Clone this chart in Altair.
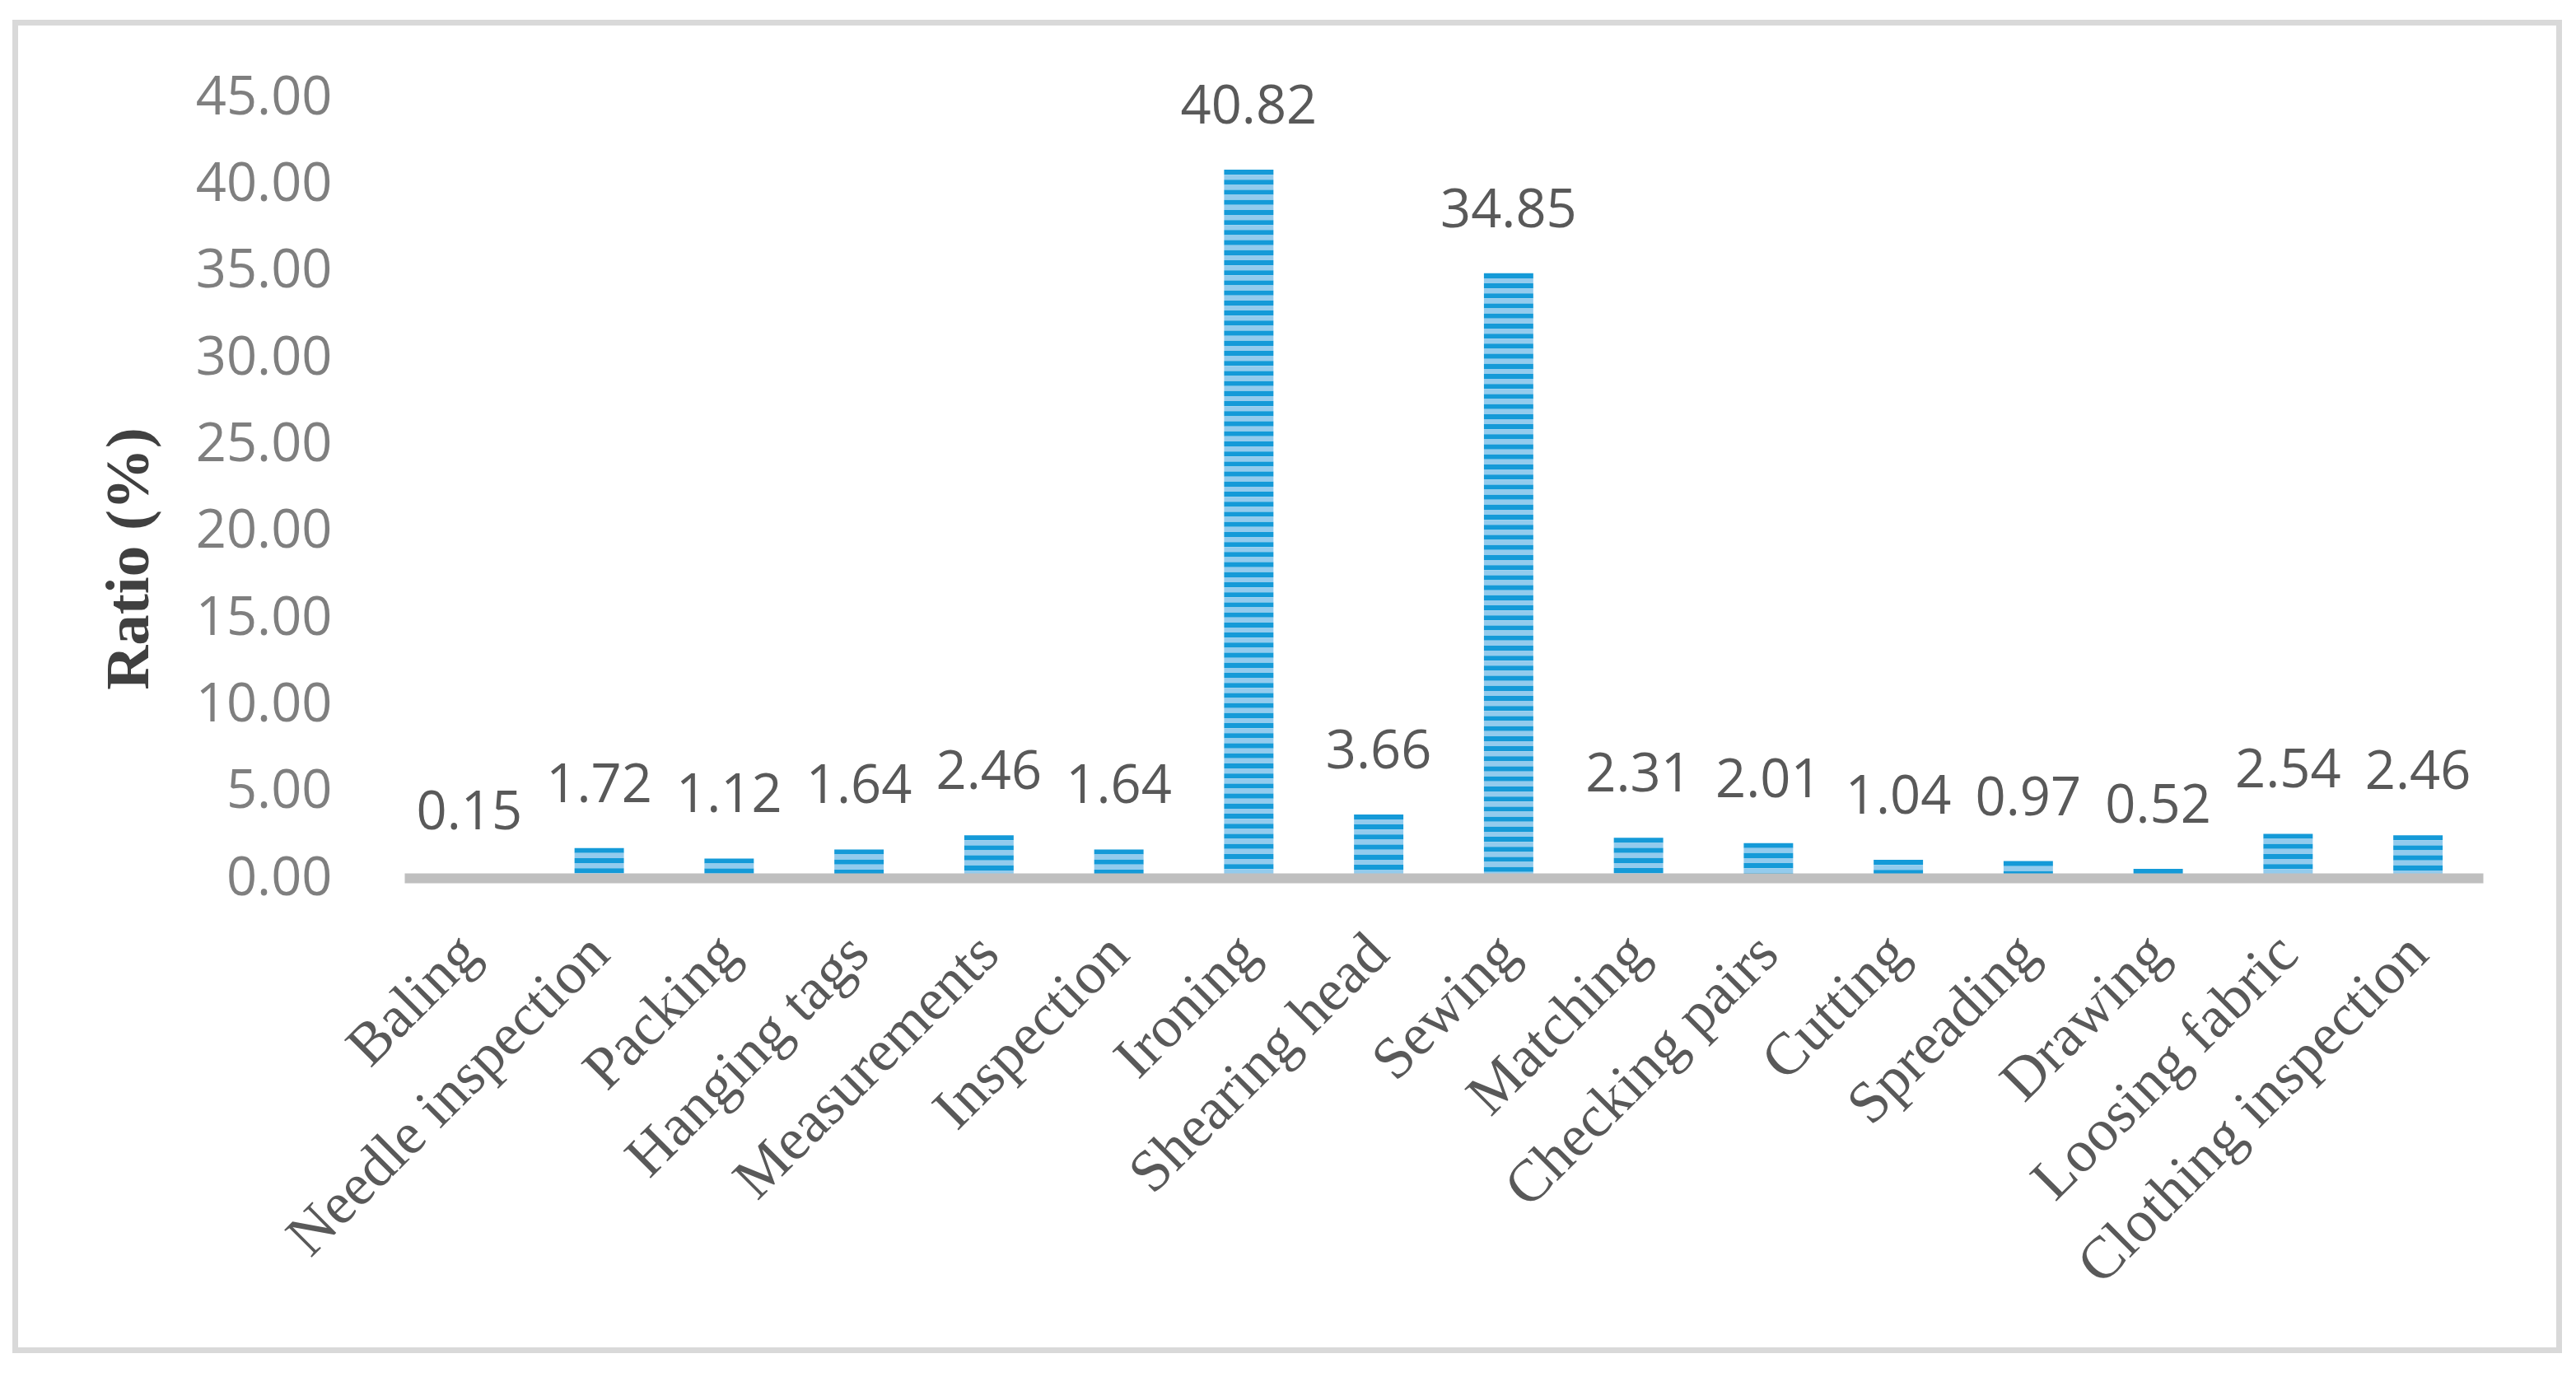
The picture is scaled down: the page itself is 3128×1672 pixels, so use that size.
import altair as alt
import pandas as pd

categories = ["Baling", "Needle inspection", "Packing", "Hanging tags", "Measurements",
              "Inspection", "Ironing", "Shearing head", "Sewing", "Matching",
              "Checking pairs", "Cutting", "Spreading", "Drawing", "Loosing fabric",
              "Clothing inspection"]
values = [0.15, 1.72, 1.12, 1.64, 2.46, 1.64, 40.82, 3.66, 34.85, 2.31,
          2.01, 1.04, 0.97, 0.52, 2.54, 2.46]
y_ticks = [0, 5, 10, 15, 20, 25, 30, 35, 40, 45]

df = pd.DataFrame({"category": categories, "ratio": values})

W, H = 2524, 948
STEP = 0.29  # stripe thickness in data units

x_scale = alt.Scale(domain=categories, paddingInner=0.62, paddingOuter=0.31)
y_scale = alt.Scale(domain=[0, 45], nice=False)

x_axis = alt.Axis(
    title=None, labelAngle=-45, labelAlign="right", labelBaseline="middle",
    labelFont="Liberation Serif", labelFontSize=72, labelColor="#595959",
    labelPadding=80, ticks=False, tickSize=0, domainColor="#bfbfbf",
    domainWidth=12, zindex=1, labelOverlap=False, labelLimit=0,
)
y_axis = alt.Axis(
    title="Ratio (%)", values=y_ticks, format=".2f", grid=False, domain=False,
    ticks=False, tickSize=0, labelFont="Open Sans", labelFontSize=65,
    labelColor="#7f7f7f", labelPadding=88,
    titleFont="Liberation Serif", titleFontSize=75, titleFontWeight="bold",
    titleColor="#404040", titleAngle=270, titleAlign="center",
    titleBaseline="middle", titleX=-335, titleY=560,
)

base = alt.Chart(df)

stripes = base.transform_calculate(
    idx=f"sequence(0, ceil(datum.ratio / {STEP}))"
).transform_flatten(["idx"]).transform_calculate(
    ytop=f"datum.ratio - datum.idx * {STEP}",
    ybot=f"max(datum.ratio - (datum.idx + 1) * {STEP}, 0)",
    parity="datum.idx % 2",
).mark_rect().encode(
    x=alt.X("category:N", sort=categories, scale=x_scale, axis=x_axis),
    y=alt.Y("ytop:Q", scale=y_scale, axis=y_axis),
    y2="ybot:Q",
    color=alt.Color("parity:N", scale=alt.Scale(domain=[0, 1], range=["#149ad8", "#93cbed"]),
                    legend=None),
)

labels = base.mark_text(
    font="Open Sans", fontSize=65, color="#595959", baseline="alphabetic", dy=-56
).encode(
    x=alt.X("category:N", sort=categories, scale=x_scale, axis=x_axis),
    y=alt.Y("ratio:Q", scale=y_scale, axis=y_axis),
    text=alt.Text("ratio:Q", format=".2f"),
)

frame = alt.Chart(pd.DataFrame({"f": [0]})).mark_rect(
    fill=None, stroke="#d9d9d9", strokeWidth=7
).encode(
    x=alt.value(-472.5), x2=alt.value(2616.5),
    y=alt.value(-90.5), y2=alt.value(1521.5),
)

chart = alt.layer(frame, stripes, labels).properties(
    width=W, height=H,
    padding={"left": 7, "top": 16, "right": 5, "bottom": 5},
).configure_view(stroke=None)

chart.save("out.html", embed_options={"renderer": "svg", "actions": False})
